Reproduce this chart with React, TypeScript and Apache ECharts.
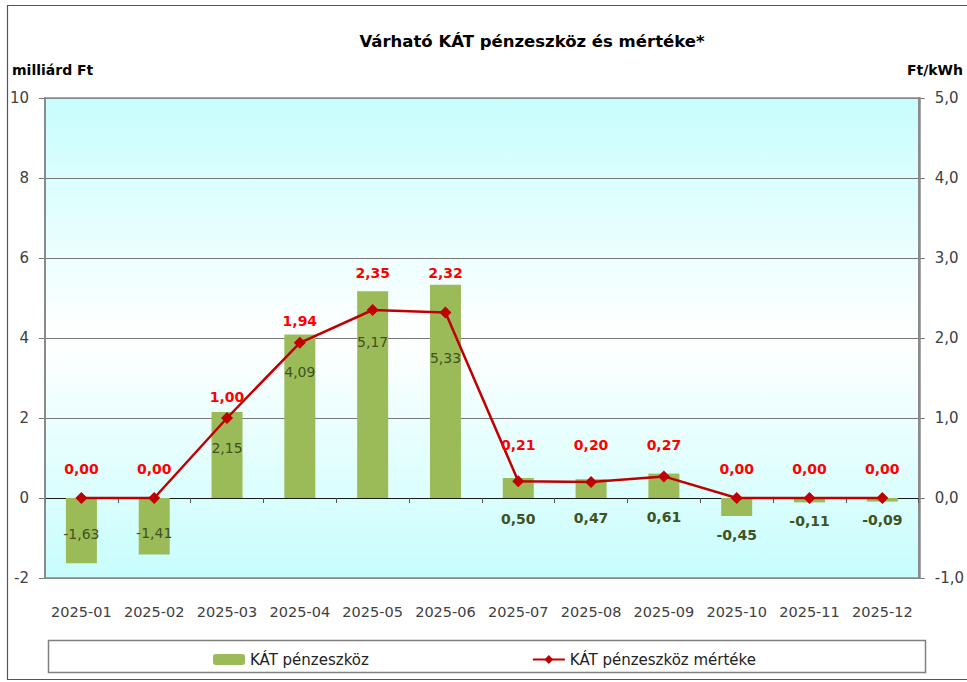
import React, { useEffect, useRef } from "react";
import * as echarts from "echarts";

const categories = ["2025-01","2025-02","2025-03","2025-04","2025-05","2025-06","2025-07","2025-08","2025-09","2025-10","2025-11","2025-12"];
const fundValues = [-1.63, -1.41, 2.15, 4.09, 5.17, 5.33, 0.5, 0.47, 0.61, -0.45, -0.11, -0.09];
const rateValues = [0, 0, 1.0, 1.94, 2.35, 2.32, 0.21, 0.2, 0.27, 0, 0, 0];
const leftTicks = { min: -2, max: 10, interval: 2 };
const rightTicks = { min: -1, max: 5, interval: 1 };

// label placement (pixels), kept apart from the values
const barLabelShift = [36, 35, 36, 38, 51, 73, 41, 39, 43, 37, 23, 22];
const barLabelBold = [false, false, false, false, false, false, true, true, true, true, true, true];
const lineLabelLift = [29, 29, 21, 22, 37, 39, 36, 37, 31, 29, 29, 29];

const FONT = "DejaVu Sans";
const fmt = (v: number, d: number) => v.toFixed(d).replace(".", ",");

export default function App() {
  const ref = useRef<HTMLDivElement>(null);
  useEffect(() => {
    if (!ref.current) return;
    const chart = echarts.init(ref.current, null, { renderer: "svg" });
    const option: any = {
      animation: false,
      backgroundColor: "#ffffff",
      textStyle: { fontFamily: FONT },
      title: {
        text: "Várható KÁT pénzeszköz és mértéke*",
        left: 527,
        textAlign: "center",
        top: 28,
        textStyle: { fontFamily: FONT, fontSize: 16.5, fontWeight: "bold", color: "#000" },
      },
      legend: {
        data: ["KÁT pénzeszköz", "KÁT pénzeszköz mértéke"],
        left: 208,
        top: 647,
        itemWidth: 32,
        itemHeight: 11,
        itemGap: 163,
        textStyle: { fontFamily: FONT, fontSize: 15, color: "#222" },
      },
      grid: { left: 45, right: 47, top: 98, bottom: 104, containLabel: false },
      xAxis: [
        {
          type: "category",
          data: categories,
          position: "bottom",
          axisLine: { show: true, onZero: true, lineStyle: { color: "#1a1a1a", width: 1 } },
          axisTick: { show: true, length: 5, lineStyle: { color: "#555" } },
          axisLabel: { show: false },
          splitLine: { show: false },
        },
        {
          type: "category",
          data: categories,
          position: "bottom",
          axisLine: { show: false, onZero: false },
          axisTick: { show: false },
          axisLabel: { show: true, interval: 0, margin: 26, fontFamily: FONT, fontSize: 14.5, color: "#404040" },
        },
      ],
      yAxis: [
        {
          type: "value",
          min: leftTicks.min,
          max: leftTicks.max,
          interval: leftTicks.interval,
          axisLine: { show: true, lineStyle: { color: "#8a8a8a", width: 2 } },
          axisTick: { show: true, length: 6, lineStyle: { color: "#777" } },
          axisLabel: { margin: 16, fontFamily: FONT, fontSize: 15, color: "#404040" },
          splitLine: { show: true, lineStyle: { color: "#777", width: 1 } },
        },
        {
          type: "value",
          min: rightTicks.min,
          max: rightTicks.max,
          interval: rightTicks.interval,
          position: "right",
          axisLine: { show: true, lineStyle: { color: "#8a8a8a", width: 2 } },
          axisTick: { show: true, length: 6, lineStyle: { color: "#777" } },
          axisLabel: { margin: 16, fontFamily: FONT, fontSize: 15, color: "#404040", formatter: (v: number) => fmt(v, 1) },
          splitLine: { show: false },
        },
      ],
      graphic: [
        {
          type: "rect",
          z: -10,
          silent: true,
          shape: { x: 45, y: 98, width: 875, height: 480 },
          style: {
            fill: new echarts.graphic.LinearGradient(0, 0, 0, 1, [
              { offset: 0, color: "#c8fdfd" },
              { offset: 0.5, color: "#ffffff" },
              { offset: 1, color: "#c8fdfd" },
            ]),
          },
        },
        {
          type: "rect",
          z: 100,
          silent: true,
          shape: { x: 45, y: 98, width: 875, height: 480 },
          style: { fill: "none", stroke: "#8a8a8a", lineWidth: 1.5 },
        },
        {
          type: "rect",
          silent: true,
          shape: { x: 7.5, y: 5.5, width: 965, height: 674 },
          style: { fill: "none", stroke: "#555", lineWidth: 1.2 },
        },
        {
          type: "rect",
          silent: true,
          z: -5,
          shape: { x: 48.5, y: 640.5, width: 877, height: 32 },
          style: { fill: "#fff", stroke: "#808080", lineWidth: 1.5 },
        },
        {
          type: "text",
          left: 12,
          top: 63,
          style: { text: "milliárd Ft", font: `bold 14px "${FONT}"`, fill: "#000" },
        },
        {
          type: "text",
          right: 4,
          top: 63,
          style: { text: "Ft/kWh", font: `bold 14px "${FONT}"`, fill: "#000" },
        },
      ],
      series: [
        {
          name: "KÁT pénzeszköz",
          type: "bar",
          xAxisIndex: 0,
          yAxisIndex: 0,
          barWidth: 31,
          itemStyle: { color: "#9bbb59" },
          label: {
            show: true,
            position: "insideTop",
            distance: 0,
            verticalAlign: "middle",
            fontFamily: FONT,
            fontSize: 14,
            color: "#3f5220",
            formatter: (p: any) => fmt(p.value, 2),
          },
          data: fundValues.map((v, i) => ({
            value: v,
            label: { offset: [0, barLabelShift[i]], fontWeight: barLabelBold[i] ? "bold" : "normal" },
          })),
          z: 2,
        },
        {
          name: "KÁT pénzeszköz mértéke",
          type: "line",
          xAxisIndex: 0,
          yAxisIndex: 1,
          symbol: "diamond",
          symbolSize: 12,
          lineStyle: { color: "#c00000", width: 2.5 },
          itemStyle: { color: "#c00000" },
          label: {
            show: true,
            position: "inside",
            fontFamily: FONT,
            fontSize: 14,
            fontWeight: "bold",
            color: "#ff0000",
            formatter: (p: any) => fmt(p.value, 2),
          },
          data: rateValues.map((v, i) => ({ value: v, label: { offset: [0, -lineLabelLift[i]] } })),
          z: 5,
        },
      ],
    };
    chart.setOption(option);
    return () => chart.dispose();
  }, []);
  return <div ref={ref} style={{ position: "fixed", left: 0, top: 0, width: 967, height: 682 }} />;
}
